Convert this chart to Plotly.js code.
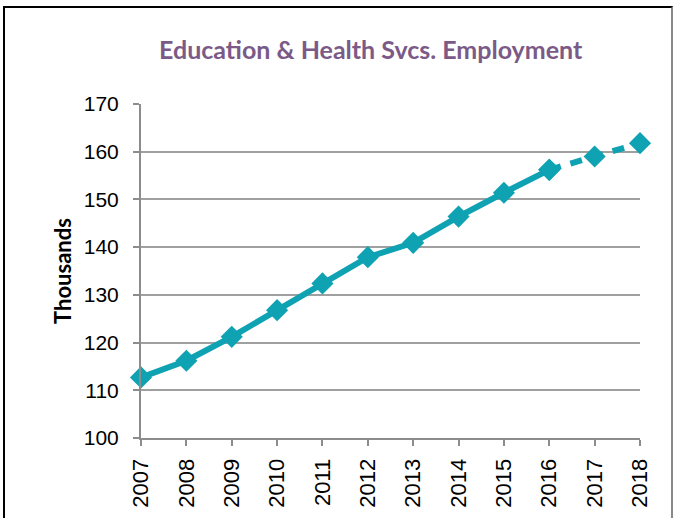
<!DOCTYPE html>
<html>
<head>
<meta charset="utf-8">
<script src="https://cdn.plot.ly/plotly-3.0.1.min.js"></script>
<style>
  body { margin: 0; background: #fff; }
  #chartDiv { position: absolute; left: 0; top: 0; width: 674px; height: 518px; }
  #frame { position: absolute; left: 3px; top: 6px; width: 666px; height: 520px; border: 2px solid #000; border-right-color: #888; pointer-events: none; }
</style>
</head>
<body>
<div id="chartDiv"></div>
<div id="frame"></div>
<script>
const years = ['2007', '2008', '2009', '2010', '2011', '2012', '2013', '2014', '2015', '2016', '2017', '2018'];
const employment = [112.7, 116.2, 121.2, 126.8, 132.4, 137.9, 140.9, 146.4, 151.4, 156.2, 159.0, 161.8];
const lastActual = 9; // 2016, after that the line is dashed (forecast)
const yTicks = [100, 110, 120, 130, 140, 150, 160, 170];

const teal = '#0ea2b3';

const actual = {
  x: years.slice(0, lastActual + 1),
  y: employment.slice(0, lastActual + 1),
  mode: 'lines+markers',
  line: { color: teal, width: 6 },
  marker: { symbol: 'diamond', size: 17, color: teal },
  cliponaxis: false,
  hoverinfo: 'x+y'
};
const forecast = {
  x: years.slice(lastActual),
  y: employment.slice(lastActual),
  mode: 'lines+markers',
  line: { color: teal, width: 6, dash: '12px,10px' },
  marker: { symbol: 'diamond', size: 17, color: teal },
  cliponaxis: false,
  hoverinfo: 'x+y'
};

const layout = {
  width: 674,
  height: 518,
  margin: { t: 104, l: 141, r: 34, b: 80 },
  paper_bgcolor: '#fff',
  plot_bgcolor: '#fff',
  showlegend: false,
  title: {
    text: '<b>Education & Health Svcs. Employment</b>',
    font: { family: 'Lato, "Open Sans", sans-serif', size: 25, color: '#7b5a87' },
    x: 0.55, xanchor: 'center', y: 0.903, yanchor: 'middle'
  },
  xaxis: {
    type: 'category',
    range: [0, years.length - 1],
    tickangle: -90,
    tickfont: { family: '"Liberation Sans", Arial, sans-serif', size: 22, color: '#000' },
    ticks: 'outside', ticklen: 6, tickcolor: '#8c8c8c', tickwidth: 2,
    ticklabelstandoff: 4,
    showline: true, linecolor: '#8c8c8c', linewidth: 2,
    showgrid: false, zeroline: false
  },
  yaxis: {
    range: [100, 170],
    tickvals: yTicks,
    tickfont: { family: '"Liberation Sans", Arial, sans-serif', size: 21, color: '#000' },
    ticks: 'outside', ticklen: 6, tickcolor: '#8c8c8c', tickwidth: 2,
    ticklabelstandoff: 10,
    showline: true, linecolor: '#8c8c8c', linewidth: 2,
    gridcolor: '#a0a0a0', gridwidth: 2,
    zeroline: false,
    title: { text: '<b>Thousands</b>', font: { family: 'Lato, "Open Sans", sans-serif', size: 22, color: '#000' }, standoff: 6 }
  }
};

Plotly.newPlot('chartDiv', [actual, forecast], layout, { displayModeBar: false, staticPlot: true });
</script>
</body>
</html>
